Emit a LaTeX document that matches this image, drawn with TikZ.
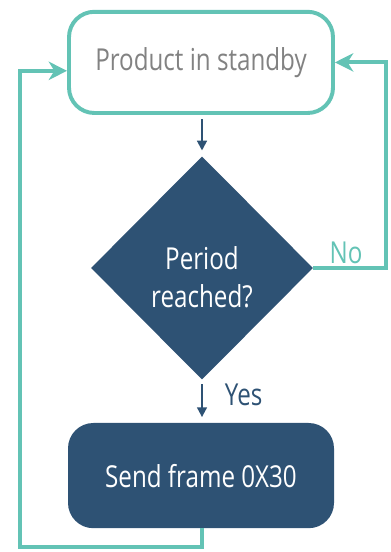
\documentclass[tikz,border=0pt]{standalone}
\usepackage{fontspec}
\setmainfont{Open Sans}[FakeStretch=0.8]
\usetikzlibrary{shapes.geometric,arrows.meta}
\definecolor{teal}{RGB}{99,195,181}
\definecolor{navy}{RGB}{46,82,116}
\definecolor{greytext}{RGB}{130,130,130}
\tikzset{
	standbybox/.style={draw=teal, line width=2.8pt, fill=white, rounded corners=18pt, minimum width=6.6cm, minimum height=2.53cm, text=greytext, font=\fontsize{21.5}{26}\selectfont},
	sendbox/.style={fill=navy, rounded corners=18pt, minimum width=6.65cm, minimum height=2.63cm, text=white, font=\fontsize{21.5}{26}\selectfont},
	decision/.style={diamond, fill=navy, minimum width=5.55cm, minimum height=5.58cm, inner sep=0pt},
	decisiontext/.style={text=white, align=center, font=\fontsize{21.5}{27}\selectfont},
	darrow/.style={draw=navy, line width=1.4pt, -{Triangle[length=7pt, width=7pt]}},
	tarrow/.style={draw=teal, line width=2.8pt, -{Stealth[length=13pt, width=13pt, inset=4pt]}},
	edgelabel/.style={font=\fontsize{21.5}{26}\selectfont}
}
\begin{document}
\begin{tikzpicture}
			%%%%% START %%%%%
			\useasboundingbox (0, 0) rectangle (9.75, 13.8);
			
			\node[standbybox] (standby) at (5.025, 12.24) {Product in standby};
			\node[decision] (period) at (5.05, 7.1) {};
			\node[decisiontext] (periodtext) at (5.05, 6.88) {Period\\reached?};
			\node[sendbox] (send) at (5.025, 1.91) {Send frame 0X30};
			
			\coordinate (nocorner) at (9.65, 7.1);
			\coordinate (backcorner) at (0.5, 0.13);
			
			\draw[darrow, shorten <=3pt, shorten >=4pt] (standby.south -| period.north) -- (period.north);
			\draw[darrow, shorten <=3pt, shorten >=4pt] (period.south) -- (send.north -| period.south);
			\node[edgelabel, text=navy, anchor=west] (yes) at (5.5, 3.92) {Yes};
			
			\draw[tarrow] (period.east) -| (nocorner) |- (standby.east);
			\node[edgelabel, text=teal] (no) at (8.65, 7.48) {No};
			
			\draw[tarrow] (send.south -| period.south) |- (backcorner) |- ([yshift=-6pt]standby.west);
			%%%%% END %%%%%
		\end{tikzpicture}
\end{document}
